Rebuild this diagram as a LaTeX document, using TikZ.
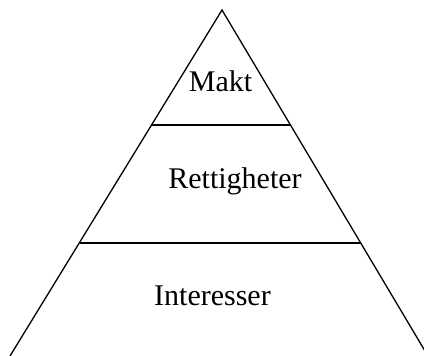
\documentclass[tikz,border=0pt]{standalone}
\usepackage{fontspec}
\setmainfont{Liberation Serif}
\begin{document}
\begin{tikzpicture}[x=1pt,y=-1pt,
  edge/.style={draw=black,line width=1.3pt},
  lvl/.style={anchor=base,inner sep=0pt,font=\fontsize{30}{36}\selectfont}]
\useasboundingbox (0,0) rectangle (424,356);
\clip (0,0) rectangle (424,356);
\coordinate (apex) at (222,10);
\coordinate (bl) at (10,356);
\coordinate (br) at (428,356);
\draw[edge] (bl) -- (apex) -- (br);
\coordinate (l1) at (151.5,125);
\coordinate (r1) at (290.5,125);
\coordinate (l2) at (80,243);
\coordinate (r2) at (360.5,243);
\draw[edge] (l1) -- (r1);
\draw[edge] (l2) -- (r2);
\node[lvl] (makt) at (220.5,92) {Makt};
\node[lvl] (rett) at (235,188) {Rettigheter};
\node[lvl] (inter) at (212.5,305) {Interesser};
\end{tikzpicture}
\end{document}
